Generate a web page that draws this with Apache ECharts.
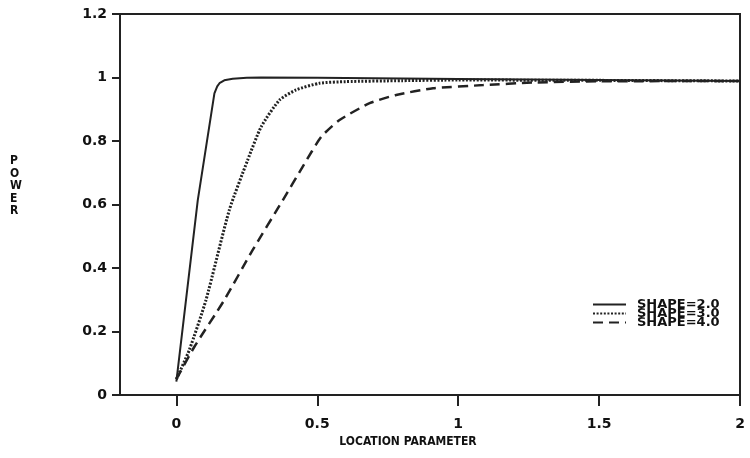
<!DOCTYPE html>
<html>
<head>
<meta charset="utf-8">
<script src="https://cdn.jsdelivr.net/npm/echarts@6/dist/echarts.min.js"></script>
<style>
html,body{margin:0;padding:0;background:#fff;}
#chart{width:750px;height:458px;}
</style>
</head>
<body>
<div id="chart"></div>
<script>
// ---- data ----
var xTicks = [0, 0.5, 1, 1.5, 2];
var seriesNames = ['SHAPE=2.0', 'SHAPE=3.0', 'SHAPE=4.0'];
var yTitle = 'P\nO\nW\nE\nR';
var xTitle = 'LOCATION PARAMETER';

var shape2X = [0, 0.076, 0.135, 0.145, 0.153, 0.17, 0.2, 0.25, 0.3, 0.5, 1.0, 1.5, 2.0];
var shape2Y = [0.042, 0.614, 0.95, 0.972, 0.982, 0.991, 0.996, 0.999, 1.0, 0.999, 0.995, 0.992, 0.989];

var shape3X = [0, 0.046, 0.105, 0.188, 0.253, 0.301, 0.366, 0.425, 0.508, 0.6, 0.8, 1.0, 1.5, 2.0];
var shape3Y = [0.05, 0.142, 0.299, 0.583, 0.74, 0.845, 0.929, 0.961, 0.982, 0.987, 0.99, 0.992, 0.991, 0.989];

var shape4X = [0, 0.064, 0.17, 0.271, 0.378, 0.449, 0.514, 0.579, 0.686, 0.78, 0.911, 1.089, 1.265, 1.5, 2.0];
var shape4Y = [0.05, 0.152, 0.299, 0.457, 0.614, 0.72, 0.813, 0.866, 0.919, 0.945, 0.966, 0.976, 0.984, 0.988, 0.989];

function pairs(xs, ys) { return xs.map(function (x, i) { return [x, ys[i]]; }); }

var INK = '#222';
var NARROW = '"DejaVu Sans Condensed", "Liberation Sans", sans-serif';
var chart = echarts.init(document.getElementById('chart'), null, {renderer: 'canvas'});
chart.setOption({
  backgroundColor: '#fff',
  animation: false,
  grid: {left: 120, right: 10, top: 14, bottom: 63, show: true, borderColor: INK, borderWidth: 2},
  graphic: [{
    type: 'text', left: 10, top: 155,
    style: {text: yTitle, fill: '#111', font: 'bold 12px ' + NARROW, lineHeight: 12.5, align: 'center'}
  }],
  xAxis: {
    type: 'value', min: -0.2, max: 2,
    name: xTitle, nameLocation: 'middle', nameGap: 40,
    nameTextStyle: {fontFamily: NARROW, fontWeight: 'bold', fontSize: 12, color: '#111', padding: [0, 44, 0, 0]},
    axisLine: {show: true, onZero: false, lineStyle: {color: INK, width: 2}},
    axisTick: {show: true, length: 11, lineStyle: {color: INK, width: 2}, customValues: xTicks},
    axisLabel: {margin: 22, fontFamily: 'DejaVu Sans', fontWeight: 'bold', fontSize: 14, color: '#111', customValues: xTicks},
    splitLine: {show: false}
  },
  yAxis: {
    type: 'value', min: 0, max: 1.2, interval: 0.2,
    axisLine: {show: true, onZero: false, lineStyle: {color: INK, width: 2}},
    axisTick: {show: true, length: 8, lineStyle: {color: INK, width: 2}},
    axisLabel: {margin: 13, fontFamily: 'DejaVu Sans', fontWeight: 'bold', fontSize: 14, color: '#111',
      formatter: function (v) { return String(Math.round(v * 10) / 10); }},
    splitLine: {show: false}
  },
  legend: {
    orient: 'vertical', left: 592, top: 298, padding: 0,
    itemWidth: 33, itemHeight: 9, itemGap: -4, selectedMode: false,
    data: seriesNames,
    itemStyle: {opacity: 0},
    textStyle: {fontFamily: 'DejaVu Sans', fontWeight: 'bold', fontSize: 13, color: '#111', padding: [0, 0, 0, 6]}
  },
  series: [
    {name: seriesNames[0], type: 'line', symbol: 'none', data: pairs(shape2X, shape2Y),
      lineStyle: {color: INK, width: 2, type: 'solid'}, itemStyle: {color: INK}},
    {name: seriesNames[1], type: 'line', symbol: 'none', data: pairs(shape3X, shape3Y), smooth: 0.2,
      lineStyle: {color: INK, width: 3, type: [2, 1.6]}, itemStyle: {color: INK}},
    {name: seriesNames[2], type: 'line', symbol: 'none', data: pairs(shape4X, shape4Y), smooth: 0.2,
      lineStyle: {color: INK, width: 2.5, type: [10, 6]}, itemStyle: {color: INK}}
  ]
});
</script>
</body>
</html>
